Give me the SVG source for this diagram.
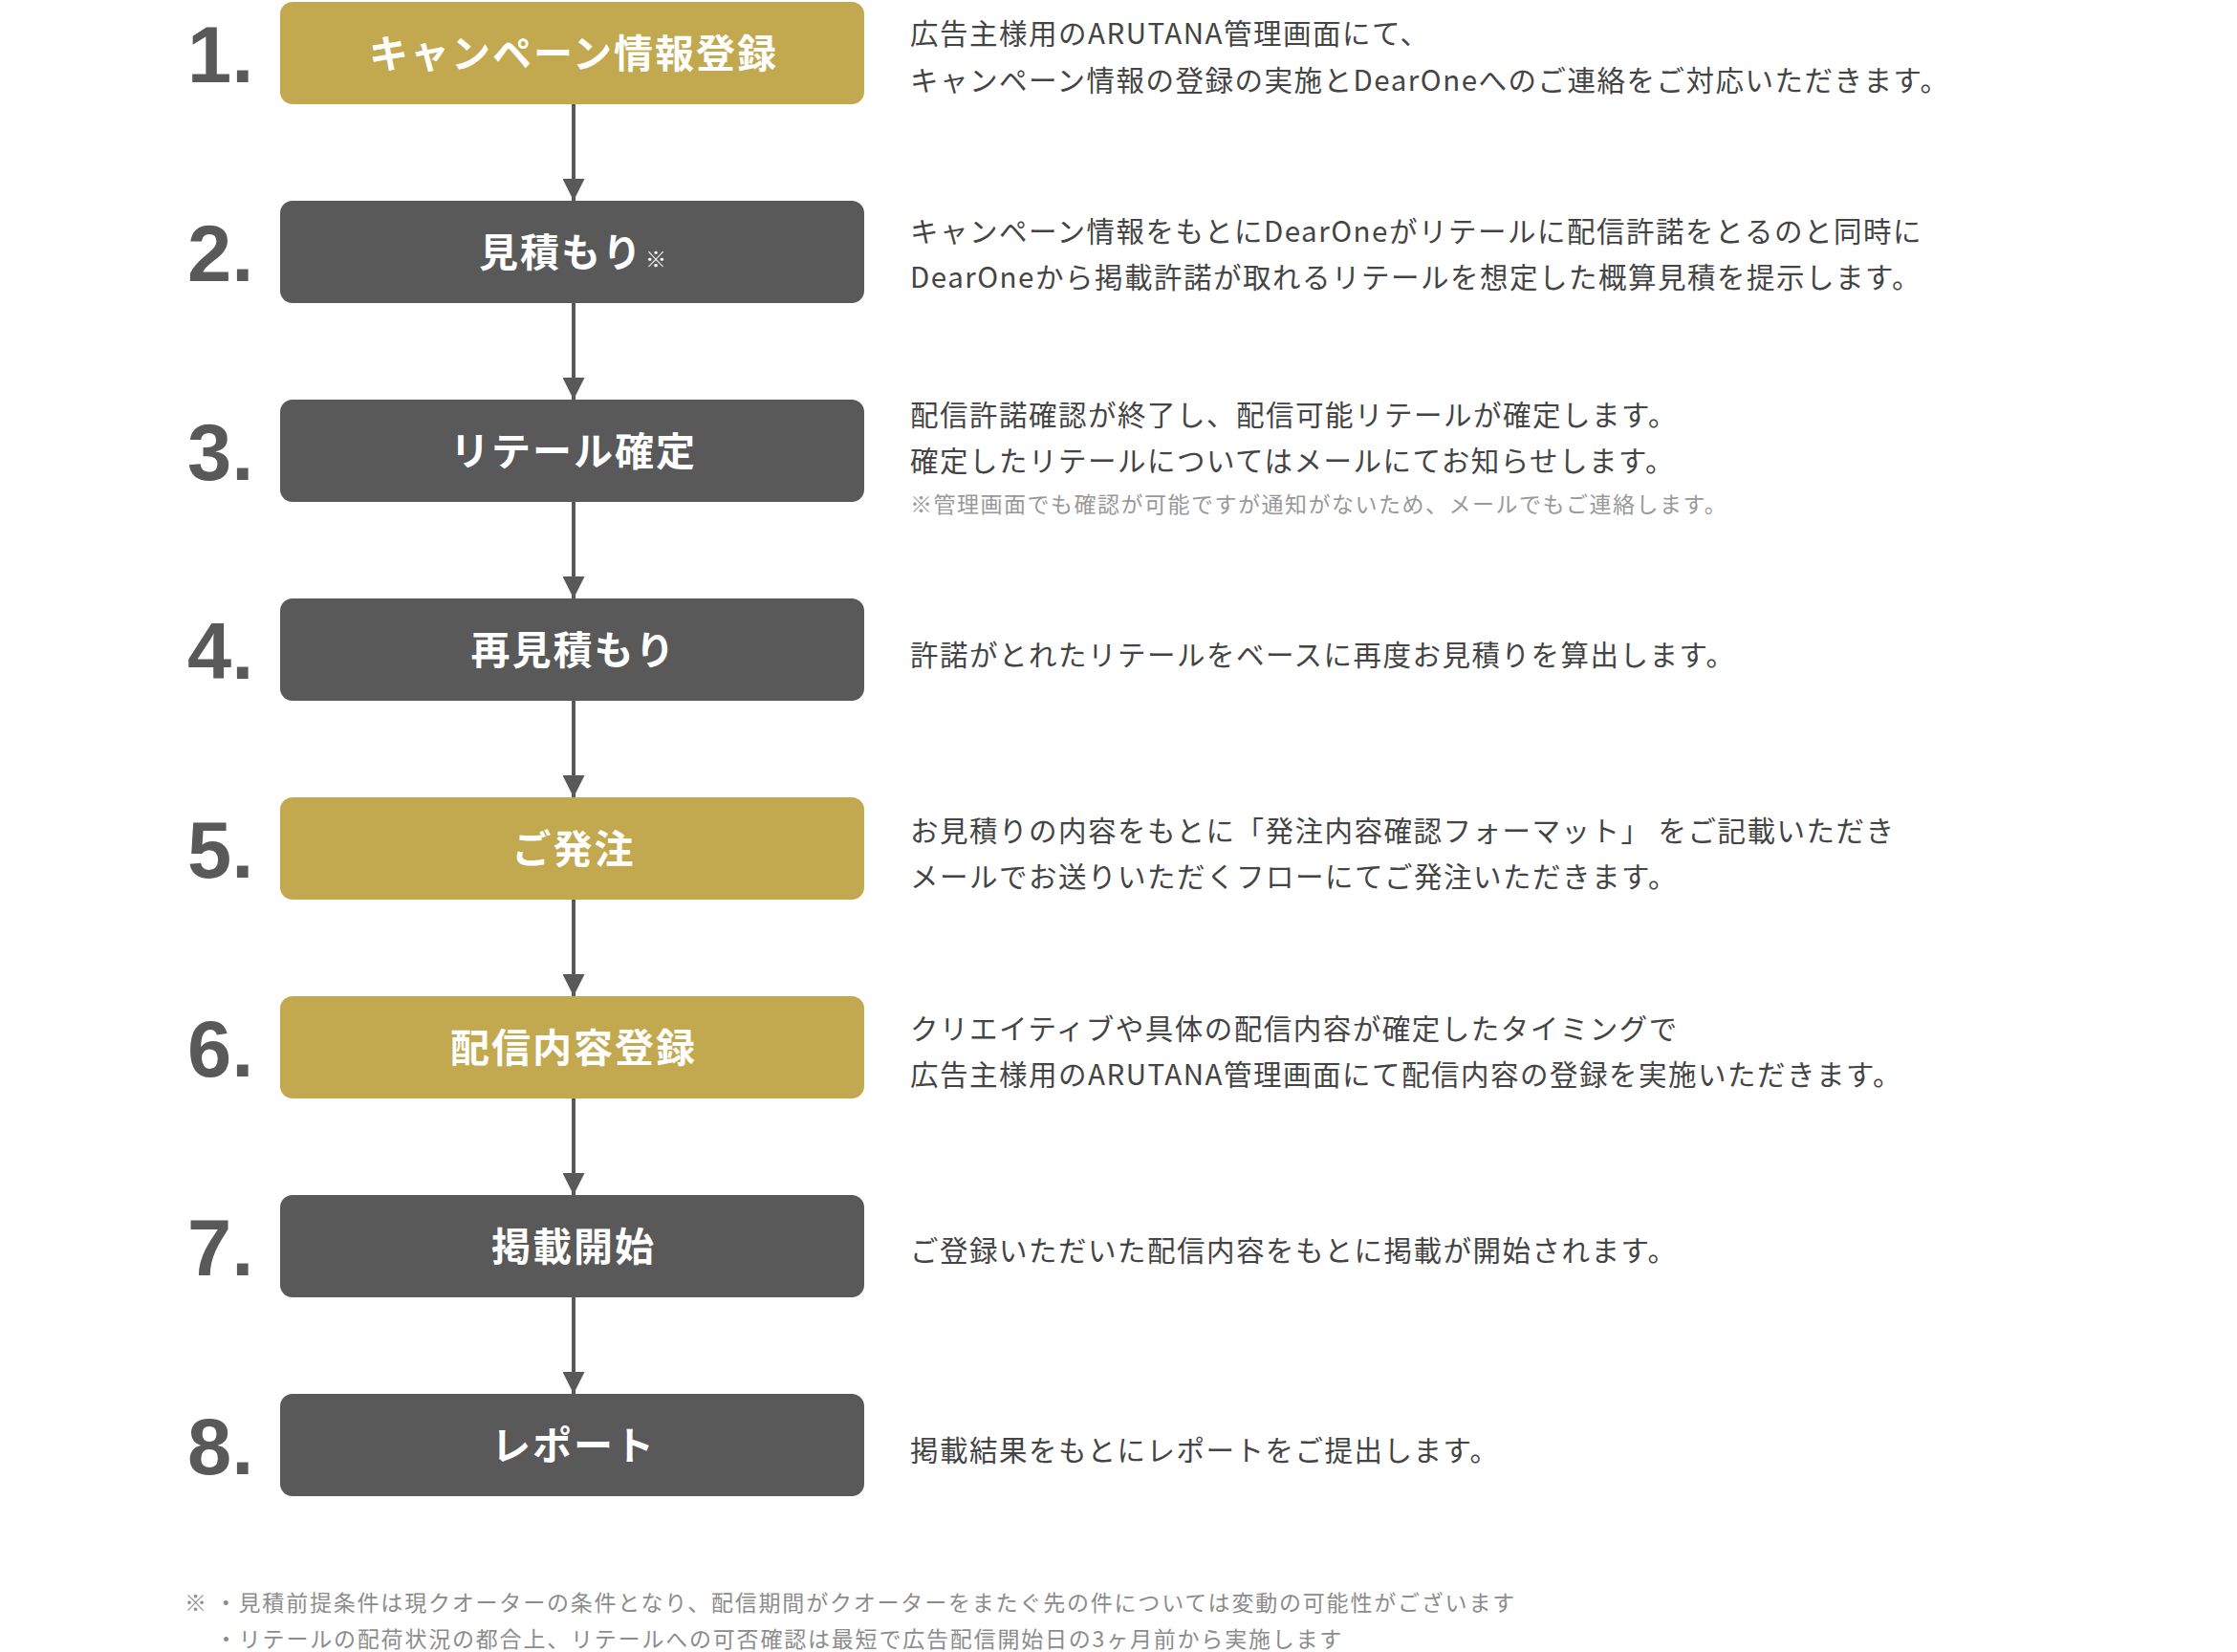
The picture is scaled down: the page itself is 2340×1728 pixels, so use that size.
<svg xmlns="http://www.w3.org/2000/svg" width="2340" height="1728" viewBox="0 0 2340 1728">
<style>
.bg{fill:#ffffff}
.gold{fill:#C2A84F}
.dark{fill:#595959}
.lbl{font-family:"Noto Sans CJK JP","Noto Sans",sans-serif;font-weight:700;font-size:41px;fill:#ffffff;text-anchor:middle;letter-spacing:2px}
.num{font-family:"Liberation Sans","Noto Sans",sans-serif;font-weight:700;font-size:83px;fill:#595959}
.desc{font-family:"Noto Sans CJK JP","Noto Sans",sans-serif;font-size:29.5px;fill:#444444;letter-spacing:1.5px}
.note{font-family:"Noto Sans CJK JP","Noto Sans",sans-serif;font-size:23px;fill:#999999;letter-spacing:1.5px}
.foot{font-family:"Noto Sans CJK JP","Noto Sans",sans-serif;font-size:23px;fill:#8c8c8c;letter-spacing:1.8px}
.conn{stroke:#595959;stroke-width:4;fill:none}
</style>
<defs>
<marker id="arr" viewBox="0 0 23 23" refX="23" refY="11.5" markerWidth="23" markerHeight="23" markerUnits="userSpaceOnUse" orient="auto">
<path d="M0,0 L23,11.5 L0,23 Z" fill="#595959"/>
</marker>
</defs>
<rect class="bg" x="0" y="0" width="2340" height="1728"/>

<g id="connectors">
<line class="conn" x1="600" y1="109" x2="600" y2="210" marker-end="url(#arr)"/>
<line class="conn" x1="600" y1="317" x2="600" y2="418" marker-end="url(#arr)"/>
<line class="conn" x1="600" y1="525" x2="600" y2="626" marker-end="url(#arr)"/>
<line class="conn" x1="600" y1="733" x2="600" y2="834" marker-end="url(#arr)"/>
<line class="conn" x1="600" y1="941" x2="600" y2="1042" marker-end="url(#arr)"/>
<line class="conn" x1="600" y1="1149" x2="600" y2="1250" marker-end="url(#arr)"/>
<line class="conn" x1="600" y1="1357" x2="600" y2="1458" marker-end="url(#arr)"/>
</g>

<g id="step1">
<text class="num" x="196" y="86">1.</text>
<rect class="gold" x="293" y="2" width="611" height="107" rx="13"/>
<text class="lbl" x="600" y="70.5">キャンペーン情報登録</text>
<text class="desc" x="952" y="46">広告主様用のARUTANA管理画面にて、</text>
<text class="desc" x="952" y="95">キャンペーン情報の登録の実施とDearOneへのご連絡をご対応いただきます。</text>
</g>

<g id="step2">
<text class="num" x="196" y="294">2.</text>
<rect class="dark" x="293" y="210" width="611" height="107" rx="13"/>
<text class="lbl" x="600" y="278.5">見積もり<tspan font-size="22" font-weight="400" dx="2">※</tspan></text>
<text class="desc" x="952" y="253">キャンペーン情報をもとにDearOneがリテールに配信許諾をとるのと同時に</text>
<text class="desc" x="952" y="301">DearOneから掲載許諾が取れるリテールを想定した概算見積を提示します。</text>
</g>

<g id="step3">
<text class="num" x="196" y="502">3.</text>
<rect class="dark" x="293" y="418" width="611" height="107" rx="13"/>
<text class="lbl" x="600" y="486.5">リテール確定</text>
<text class="desc" x="952" y="445">配信許諾確認が終了し、配信可能リテールが確定します。</text>
<text class="desc" x="952" y="493">確定したリテールについてはメールにてお知らせします。</text>
<text class="note" x="952" y="536">※管理画面でも確認が可能ですが通知がないため、メールでもご連絡します。</text>
</g>

<g id="step4">
<text class="num" x="196" y="710">4.</text>
<rect class="dark" x="293" y="626" width="611" height="107" rx="13"/>
<text class="lbl" x="600" y="694.5">再見積もり</text>
<text class="desc" x="952" y="696">許諾がとれたリテールをベースに再度お見積りを算出します。</text>
</g>

<g id="step5">
<text class="num" x="196" y="918">5.</text>
<rect class="gold" x="293" y="834" width="611" height="107" rx="13"/>
<text class="lbl" x="600" y="902.5">ご発注</text>
<text class="desc" x="952" y="880">お見積りの内容をもとに「発注内容確認フォーマット」 をご記載いただき</text>
<text class="desc" x="952" y="928">メールでお送りいただくフローにてご発注いただきます。</text>
</g>

<g id="step6">
<text class="num" x="196" y="1126">6.</text>
<rect class="gold" x="293" y="1042" width="611" height="107" rx="13"/>
<text class="lbl" x="600" y="1110.5">配信内容登録</text>
<text class="desc" x="952" y="1087">クリエイティブや具体の配信内容が確定したタイミングで</text>
<text class="desc" x="952" y="1135">広告主様用のARUTANA管理画面にて配信内容の登録を実施いただきます。</text>
</g>

<g id="step7">
<text class="num" x="196" y="1334">7.</text>
<rect class="dark" x="293" y="1250" width="611" height="107" rx="13"/>
<text class="lbl" x="600" y="1318.5">掲載開始</text>
<text class="desc" x="952" y="1319">ご登録いただいた配信内容をもとに掲載が開始されます。</text>
</g>

<g id="step8">
<text class="num" x="196" y="1542">8.</text>
<rect class="dark" x="293" y="1458" width="611" height="107" rx="13"/>
<text class="lbl" x="600" y="1526.5">レポート</text>
<text class="desc" x="952" y="1528">掲載結果をもとにレポートをご提出します。</text>
</g>

<g id="footnote">
<text class="foot" x="193" y="1685">※ ・見積前提条件は現クオーターの条件となり、配信期間がクオーターをまたぐ先の件については変動の可能性がございます</text>
<text class="foot" x="225" y="1723">・リテールの配荷状況の都合上、リテールへの可否確認は最短で広告配信開始日の3ヶ月前から実施します</text>
</g>
</svg>
